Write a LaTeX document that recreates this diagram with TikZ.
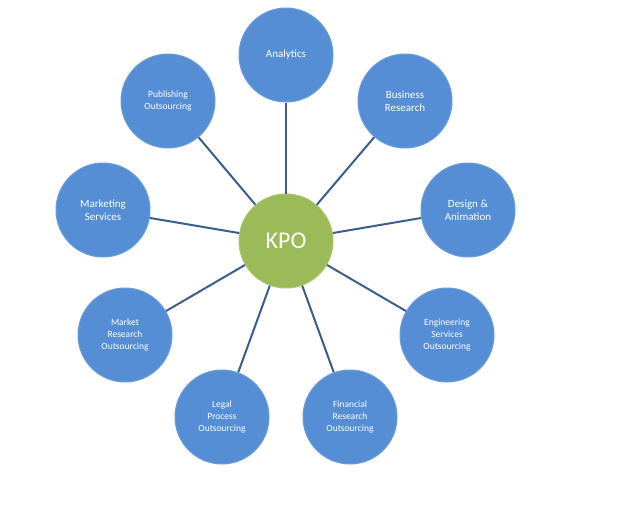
\documentclass[tikz,border=0pt]{standalone}
\usepackage{fontspec}
\setmainfont{Carlito}
\begin{document}
\begin{tikzpicture}[x=1pt,y=-1pt,
  outer/.style={circle,fill=blueF,draw=blueD,line width=1pt,minimum size=94pt,inner sep=0pt,text=white,align=center,font=\fontsize{11}{13}\selectfont},
  small/.style={font=\fontsize{9.5}{12}\selectfont},
  hub/.style={circle,fill=greenF,draw=greenD,line width=1pt,minimum size=94pt,inner sep=0pt,text=white,font=\fontsize{24}{28}\selectfont},
  link/.style={draw=lineC,line width=2pt}]
\definecolor{blueF}{HTML}{558ED5}
\definecolor{blueD}{HTML}{6A9CDB}
\definecolor{greenF}{HTML}{9BBB59}
\definecolor{greenD}{HTML}{A9C66E}
\definecolor{lineC}{HTML}{3B5E8C}
\useasboundingbox[fill=white] (0,0) rectangle (640,512);
\node[hub] (k) at (286,241) {KPO};
\node[outer] (a) at (286,55) {Analytics};
\node[outer] (b) at (405,101) {Business\\Research};
\node[outer] (d) at (468,210) {Design \&\\Animation};
\node[outer,small] (e) at (447,335) {Engineering\\Services\\Outsourcing};
\node[outer,small] (f) at (350,417) {Financial\\Research\\Outsourcing};
\node[outer,small] (l) at (222,417) {Legal\\Process\\Outsourcing};
\node[outer,small] (m) at (125,335) {Market\\Research\\Outsourcing};
\node[outer] (s) at (103,210) {Marketing\\Services};
\node[outer,small] (p) at (168,101) {Publishing\\Outsourcing};
\foreach \n in {a,b,d,e,f,l,m,s,p} \path[link] (k) -- (\n);
\end{tikzpicture}
\end{document}
